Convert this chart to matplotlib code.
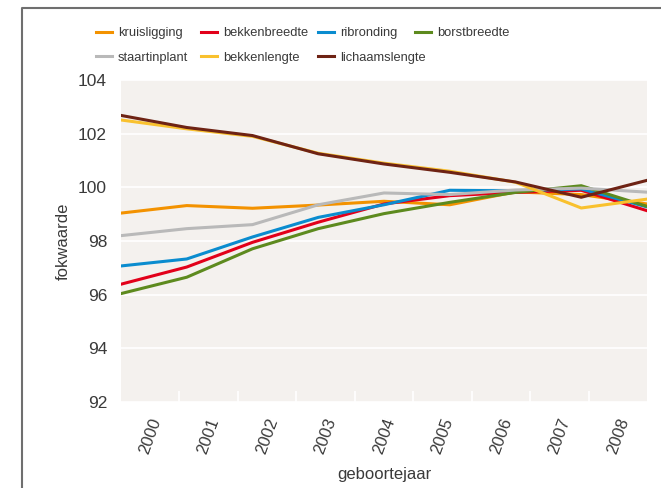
import numpy as np
import matplotlib.pyplot as plt
from matplotlib.lines import Line2D

plt.rcParams['font.family'] = ['Liberation Sans', 'DejaVu Sans']
plt.rcParams['text.color'] = '#3a3a3a'
plt.rcParams['axes.labelcolor'] = '#3a3a3a'
plt.rcParams['xtick.labelcolor'] = '#3a3a3a'
plt.rcParams['ytick.labelcolor'] = '#3a3a3a'

jaren = ['2000', '2001', '2002', '2003', '2004', '2005', '2006', '2007', '2008']

kruisligging   = [99.04, 99.32, 99.22, 99.34, 99.48, 99.35, 99.83, 99.73, 99.38]
bekkenbreedte  = [96.39, 97.03, 97.95, 98.70, 99.38, 99.69, 99.81, 99.89, 99.13]
ribronding     = [97.07, 97.33, 98.15, 98.88, 99.35, 99.89, 99.87, 99.94, 99.27]
borstbreedte   = [96.04, 96.65, 97.71, 98.46, 99.02, 99.44, 99.81, 100.06, 99.29]
staartinplant  = [98.20, 98.46, 98.61, 99.35, 99.79, 99.73, 99.90, 99.97, 99.82]
bekkenlengte   = [102.51, 102.18, 101.90, 101.27, 100.90, 100.60, 100.19, 99.23, 99.56]
lichaamslengte = [102.68, 102.23, 101.93, 101.25, 100.87, 100.56, 100.20, 99.63, 100.26]

reeksen = [
    ('kruisligging', kruisligging, '#f39200'),
    ('bekkenbreedte', bekkenbreedte, '#e2001a'),
    ('ribronding', ribronding, '#0a8ccf'),
    ('borstbreedte', borstbreedte, '#5d8a1e'),
    ('staartinplant', staartinplant, '#b9b9b9'),
    ('bekkenlengte', bekkenlengte, '#f9c12e'),
    ('lichaamslengte', lichaamslengte, '#6e2314'),
]

fig = plt.figure(figsize=(6.61, 4.88), dpi=100)
ax = fig.add_axes([121/661, 1-402/488, 526/661, 322/488])
ax.set_facecolor('#f4f1ee')

x = np.arange(len(jaren))
lijnen = {}
for naam, waarden, kleur in reeksen:
    lijnen[naam], = ax.plot(x, waarden, color=kleur, lw=2.2, label=naam)

ax.set_xlim(0, 8)
ax.set_ylim(92, 104)
ax.set_yticks([92, 94, 96, 98, 100, 102, 104])
ax.yaxis.grid(True, color='white', lw=1.2)
ax.set_axisbelow(True)

# categorie-labels in het midden van de vakken
nb = len(jaren)
breedte = 8 / nb
ax.set_xticks([(i + 0.5) * breedte for i in range(nb)])
ax.set_xticklabels(jaren, rotation=70, ha='center', va='top', fontsize=12)
ax.set_xticks([i * breedte for i in range(1, nb)], minor=True)
ax.tick_params(axis='x', which='major', length=0, pad=10)
ax.tick_params(axis='x', which='minor', direction='in', length=8, color='white', width=1.2)
ax.tick_params(axis='y', length=0, labelsize=12.5, pad=10)

for s in ax.spines.values():
    s.set_visible(False)

ax.set_xlabel('geboortejaar', fontsize=12, labelpad=8)
ax.set_ylabel('fokwaarde', fontsize=12, labelpad=5)

# legenda: vier kolommen op vaste plaatsen
kolommen = [['kruisligging', 'staartinplant'], ['bekkenbreedte', 'bekkenlengte'],
            ['ribronding', 'lichaamslengte'], ['borstbreedte']]
kol_x = [96, 201, 318, 415]
for namen, xp in zip(kolommen, kol_x):
    fig.legend([lijnen[n] for n in namen], namen, frameon=False,
               loc='upper left', bbox_to_anchor=(xp/661, 1-27/488), fontsize=9.3,
               handlelength=1.25, handletextpad=0.45, labelspacing=1.0,
               borderpad=0, borderaxespad=0)

# kader
fig.add_artist(Line2D([22/661, 22/661, 1], [0, 1-8/488, 1-8/488],
                      transform=fig.transFigure, color='#6f6f6f', lw=1.5))

fig.savefig('out.png', dpi=100)
